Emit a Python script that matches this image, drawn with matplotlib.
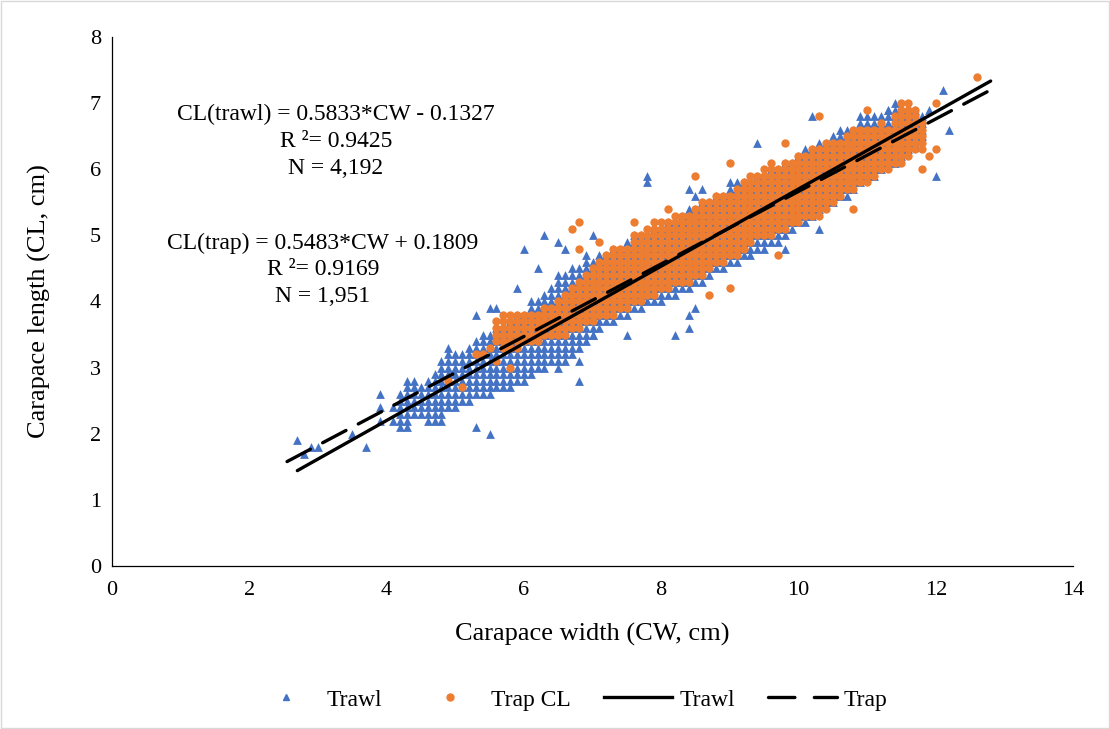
import numpy as np
import matplotlib.pyplot as plt
from matplotlib.lines import Line2D
from matplotlib.patches import Rectangle

plt.rcParams['font.family'] = ['Liberation Serif', 'DejaVu Serif']
plt.rcParams['lines.scale_dashes'] = False

# Trawl crabs: for each CW column (step 0.1 cm) the lowest and highest CL
trawl_cw = [4.2, 4.3, 4.4, 4.5, 4.6, 4.7, 4.8, 4.9, 5.0, 5.1, 5.2, 5.3, 5.4, 5.5, 5.6, 5.7,
            5.8, 5.9, 6.0, 6.1, 6.2, 6.3, 6.4, 6.5, 6.6, 6.7, 6.8, 6.9, 7.0, 7.1, 7.2, 7.3,
            7.4, 7.5, 7.6, 7.7, 7.8, 7.9, 8.0, 8.1, 8.2, 8.3, 8.4, 8.5, 8.6, 8.7, 8.8, 8.9,
            9.0, 9.1, 9.2, 9.3, 9.4, 9.5, 9.6, 9.7, 9.8, 9.9, 10.0, 10.1, 10.2, 10.3, 10.4,
            10.5, 10.6, 10.7, 10.8, 10.9, 11.0, 11.1, 11.2, 11.3, 11.4, 11.5, 11.6, 11.7, 11.8]
trawl_lo = [2.1, 2.1, 2.3, 2.3, 2.2, 2.2, 2.2, 2.4, 2.4, 2.5, 2.5, 2.6, 2.6, 2.6, 2.7, 2.7,
            2.7, 2.8, 2.8, 2.9, 3.0, 3.0, 3.1, 3.1, 3.1, 3.2, 3.3, 3.4, 3.5, 3.6, 3.7, 3.7,
            3.8, 3.8, 3.9, 3.9, 4.0, 4.0, 4.0, 4.1, 4.1, 4.2, 4.2, 4.3, 4.3, 4.4, 4.5, 4.5,
            4.6, 4.6, 4.7, 4.7, 4.8, 4.8, 4.9, 4.9, 5.0, 5.1, 5.2, 5.2, 5.3, 5.4, 5.5,
            5.5, 5.6, 5.6, 5.7, 5.8, 5.9, 5.9, 6.0, 6.1, 6.1, 6.2, 6.3, 6.4, 6.5]
trawl_hi = [2.6, 2.8, 2.8, 2.7, 2.8, 2.9, 3.1, 3.3, 3.2, 3.2, 3.3, 3.4, 3.5, 3.5, 3.6, 3.6,
            3.7, 3.8, 3.8, 4.0, 4.0, 4.1, 4.2, 4.4, 4.4, 4.5, 4.5, 4.6, 4.6, 4.7, 4.7, 4.8,
            4.8, 4.9, 5.0, 5.0, 5.0, 5.1, 5.1, 5.2, 5.2, 5.3, 5.4, 5.4, 5.5, 5.5, 5.6, 5.6,
            5.7, 5.7, 5.8, 5.8, 5.9, 5.9, 6.0, 6.0, 6.1, 6.1, 6.2, 6.3, 6.3, 6.4, 6.4,
            6.5, 6.5, 6.6, 6.6, 6.7, 6.7, 6.8, 6.8, 6.9, 6.9, 6.9, 6.9, 6.9, 6.8]
# scattered trawl points outside the dense band
trawl_out_cw = [2.7, 2.8, 2.9, 3.0, 3.5, 3.7, 3.9, 3.9, 3.9, 4.1, 4.1, 5.3, 5.5, 5.3, 5.5,
                5.9, 6.0, 6.2, 6.3, 6.5, 6.6, 6.9, 7.0, 6.5, 6.8, 6.8, 7.8, 7.8, 8.4, 8.5,
                7.0, 7.5, 8.2, 8.4, 8.4, 8.5, 9.4, 8.6, 9.0, 9.1, 9.8, 10.2, 10.6, 10.9,
                11.0, 11.4, 11.3, 10.3, 12.1, 12.2, 12.0, 11.9, 11.6, 5.6, 5.5]
trawl_out_cl = [1.9, 1.7, 1.8, 1.8, 2.0, 1.8, 2.6, 2.4, 2.2, 2.4, 2.2, 3.8, 3.9, 2.1, 2.0,
                4.2, 4.8, 4.5, 5.0, 4.9, 4.8, 4.7, 5.0, 3.0, 3.1, 2.8, 5.9, 5.8, 5.7, 5.6,
                3.5, 3.5, 3.5, 3.8, 3.6, 3.9, 6.4, 5.7, 5.8, 5.8, 4.8, 6.8, 6.6, 6.8,
                6.8, 7.0, 6.9, 5.1, 7.2, 6.6, 5.9, 6.9, 6.8, 3.9, 3.4]

# Trap crabs: same reading, per CW column
trap_cw = [5.6, 5.7, 5.8, 5.9, 6.0, 6.1, 6.2, 6.3, 6.4, 6.5, 6.6, 6.7, 6.8, 6.9, 7.0, 7.1,
           7.2, 7.3, 7.4, 7.5, 7.6, 7.7, 7.8, 7.9, 8.0, 8.1, 8.2, 8.3, 8.4, 8.5, 8.6, 8.7,
           8.8, 8.9, 9.0, 9.1, 9.2, 9.3, 9.4, 9.5, 9.6, 9.7, 9.8, 9.9, 10.0, 10.1, 10.2,
           10.3, 10.4, 10.5, 10.6, 10.7, 10.8, 10.9, 11.0, 11.1, 11.2, 11.3, 11.4, 11.5,
           11.6, 11.7, 11.8]
trap_lo = [3.4, 3.3, 3.3, 3.3, 3.4, 3.4, 3.4, 3.5, 3.5, 3.5, 3.5, 3.6, 3.6, 3.7, 3.7, 3.8,
           3.8, 3.8, 3.9, 3.9, 4.0, 4.0, 4.1, 4.1, 4.2, 4.2, 4.3, 4.3, 4.3, 4.4, 4.4, 4.5,
           4.6, 4.6, 4.7, 4.7, 4.8, 4.9, 5.0, 5.0, 5.0, 5.1, 5.1, 5.2, 5.2, 5.3, 5.3,
           5.3, 5.4, 5.5, 5.6, 5.7, 5.7, 5.8, 5.8, 5.9, 6.0, 6.0, 6.1, 6.1,
           6.2, 6.3, 6.4]
trap_hi = [3.7, 3.8, 3.8, 3.8, 3.8, 3.8, 3.8, 3.9, 3.9, 4.0, 4.1, 4.2, 4.3, 4.4, 4.5, 4.6,
           4.7, 4.8, 4.8, 4.8, 5.0, 5.0, 5.1, 5.2, 5.2, 5.2, 5.3, 5.3, 5.3, 5.4, 5.5, 5.5,
           5.6, 5.6, 5.6, 5.7, 5.8, 5.9, 5.9, 6.0, 6.1, 6.0, 6.1, 6.1, 6.2, 6.2, 6.3,
           6.3, 6.4, 6.4, 6.4, 6.5, 6.6, 6.6, 6.6, 6.6, 6.7, 6.6, 6.8, 7.0,
           6.9, 6.8, 6.7]
trap_out_cw = [4.9, 5.1, 5.3, 5.4, 5.5, 5.6, 5.8, 6.7, 6.8, 6.8, 7.1, 7.6, 8.1, 8.5, 9.0,
               9.0, 8.7, 9.7, 9.8, 10.3, 10.8, 11.0, 11.8, 12.0, 11.9, 11.8, 12.6, 12.0,
               11.7, 11.6]
trap_out_cl = [2.8, 2.7, 3.2, 3.2, 3.3, 3.1, 3.0, 5.1, 5.2, 4.8, 4.9, 5.2, 5.4, 5.9, 6.1,
               4.2, 4.1, 4.7, 6.4, 6.8, 5.4, 6.9, 6.3, 6.3, 6.2, 6.0, 7.4, 7.0,
               6.9, 7.0]

# fitted lines (equations shown on the chart) and the CW span Excel drew them over
trawl_fit = (0.5833, -0.1327)
trap_fit = (0.5483, 0.1809)
trawl_span = [2.7, 12.8]
trap_span = [2.55, 12.85]


def expand(cw, lo, hi, out_cw, out_cl):
    xs, ys = [], []
    for c, a, b in zip(cw, lo, hi):
        n = int(round((b - a) * 10)) + 1
        for k in range(n):
            xs.append(c)
            ys.append(round(a + 0.1 * k, 1))
    return np.array(xs + out_cw), np.array(ys + out_cl)


tx, ty = expand(trawl_cw, trawl_lo, trawl_hi, trawl_out_cw, trawl_out_cl)
px, py = expand(trap_cw, trap_lo, trap_hi, trap_out_cw, trap_out_cl)

blue = '#4472C4'
orange = '#ED7D31'
dash = [19, 10]

fig = plt.figure(figsize=(11.1, 7.29), dpi=100)
ax = fig.add_axes([0.1009, 0.2236, 0.8658, 0.7257])

ax.scatter(tx, ty, marker='^', s=40, color=blue, linewidths=0, zorder=2)
ax.scatter(px, py, marker='o', s=36, color=orange, linewidths=0, zorder=3)

xs = np.array(trawl_span)
ax.plot(xs, trawl_fit[0] * xs + trawl_fit[1], color='black', lw=2.4, zorder=4,
        solid_capstyle='round')
xs = np.array(trap_span)
ax.plot(xs, trap_fit[0] * xs + trap_fit[1], color='black', lw=2.4, zorder=4,
        dashes=dash, dash_capstyle='round')

ax.set_xlim(0, 14)
ax.set_ylim(0, 8)
ax.set_xticks(range(0, 15, 2))
ax.set_yticks(range(0, 9))
ax.tick_params(labelsize=16, length=0)
ax.tick_params(axis='x', pad=11)
ax.tick_params(axis='y', pad=8)
for s in ['top', 'right']:
    ax.spines[s].set_visible(False)
for s in ['left', 'bottom']:
    ax.spines[s].set_color('black')
    ax.spines[s].set_linewidth(0.9)

ax.set_xlabel('Carapace width (CW, cm)', fontsize=19, labelpad=16)
ax.set_ylabel('Carapace length (CL, cm)', fontsize=19, labelpad=28)

ax.text(3.26, 6.42, 'CL(trawl) = 0.5833*CW - 0.1327\nR ²= 0.9425\nN = 4,192',
        ha='center', va='center', fontsize=17, linespacing=1.36)
ax.text(3.07, 4.48, 'CL(trap) = 0.5483*CW + 0.1809\nR ²= 0.9169\nN = 1,951',
        ha='center', va='center', fontsize=17, linespacing=1.36)

handles = [
    Line2D([], [], marker='^', ls='none', color=blue, markersize=5),
    Line2D([], [], marker='o', ls='none', color=orange, markersize=5),
    Line2D([], [], color='black', lw=2.4),
    Line2D([], [], color='black', lw=2.4, dashes=[19, 14], dash_capstyle='round'),
]
fig.legend(handles, ['Trawl', 'Trap CL', 'Trawl', 'Trap'], loc='center',
           bbox_to_anchor=(0.513, 0.04), ncol=4, frameon=False, fontsize=17,
           handlelength=2.9, columnspacing=1.4, handletextpad=0.3)

fig.patches.append(Rectangle((0.001, 0.001), 0.998, 0.998, transform=fig.transFigure,
                             fill=False, edgecolor='#d9d9d9', lw=1))

fig.savefig('out.png', dpi=100)
